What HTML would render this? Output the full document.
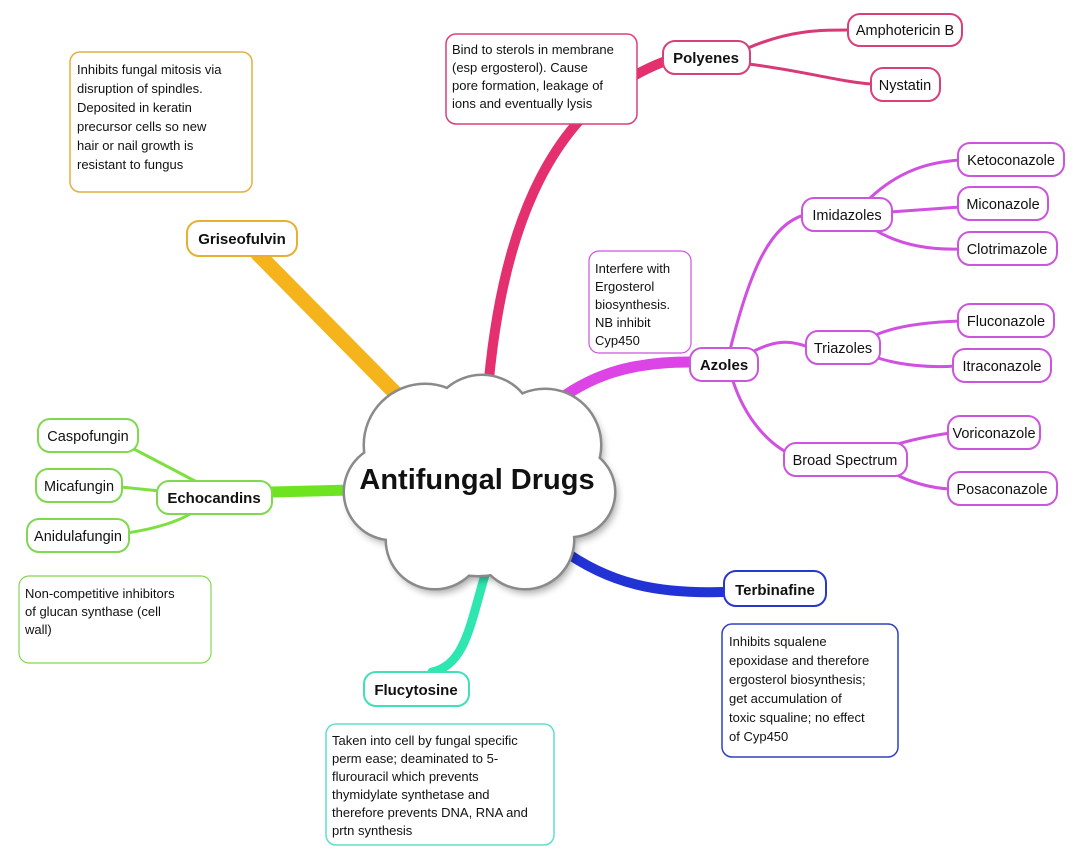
<!DOCTYPE html>
<html><head><meta charset="utf-8"><style>
body{margin:0;background:#fff;}
svg{display:block;font-family:"Liberation Sans",sans-serif;}
.n{font-size:14.5px;fill:#111;}
.b{font-size:15px;font-weight:bold;fill:#111;}
.t{font-size:13px;fill:#111;}
</style></head><body>
<svg width="1080" height="863" viewBox="0 0 1080 863">
<defs><filter id="sh" x="-20%" y="-20%" width="140%" height="140%"><feGaussianBlur stdDeviation="4"/></filter></defs>
<g fill="none" stroke-linecap="round">
<path d="M488 390 C500 250 540 110 663 62" stroke="#e5306f" stroke-width="10"/>
<path d="M412 410 L258 254" stroke="#f5b41c" stroke-width="15"/>
<path d="M552 405 C590 375 630 362 690 362" stroke="#dc44e6" stroke-width="11"/>
<path d="M352 490 L272 492" stroke="#6ee420" stroke-width="11"/>
<path d="M560 548 C610 585 660 594 724 592" stroke="#2233d6" stroke-width="10"/>
<path d="M485 575 C470 625 465 665 432 672" stroke="#2ee6b0" stroke-width="9"/>
<path d="M748 48 C790 30 820 30 850 30" stroke="#d83a78" stroke-width="3"/>
<path d="M748 64 C800 70 840 82 872 84" stroke="#d83a78" stroke-width="3"/>
<g stroke="#d050e0" stroke-width="3">
<path d="M730 350 C750 270 770 225 804 215"/>
<path d="M752 352 C775 340 790 340 808 347"/>
<path d="M732 378 C745 420 770 445 792 455"/>
<path d="M870 198 C900 170 930 162 960 160"/>
<path d="M890 212 L960 207"/>
<path d="M875 230 C900 245 930 250 960 249"/>
<path d="M878 334 C900 325 930 322 960 321"/>
<path d="M878 358 C900 365 930 368 955 366"/>
<path d="M895 445 C910 440 930 436 950 433"/>
<path d="M895 474 C910 482 930 488 950 489"/>
</g>
<g stroke="#7ee040" stroke-width="3">
<path d="M132 448 L195 481"/>
<path d="M121 487 L160 491"/>
<path d="M127 533 C160 528 180 520 190 514"/>
</g>
</g>
<g fill="#000" opacity="0.35" filter="url(#sh)" transform="translate(3,5)">
<circle cx="425" cy="445" r="60"/><circle cx="482" cy="428" r="52"/><circle cx="545" cy="445" r="55"/>
<circle cx="392" cy="492" r="47"/><circle cx="570" cy="492" r="44"/><circle cx="435" cy="540" r="48"/>
<circle cx="525" cy="540" r="48"/><circle cx="478" cy="495" r="80"/>
</g>
<g stroke="#8a8a8a" stroke-width="5" fill="#8a8a8a">
<circle cx="425" cy="445" r="60"/><circle cx="482" cy="428" r="52"/><circle cx="545" cy="445" r="55"/>
<circle cx="392" cy="492" r="47"/><circle cx="570" cy="492" r="44"/><circle cx="435" cy="540" r="48"/>
<circle cx="525" cy="540" r="48"/><circle cx="478" cy="495" r="80"/>
</g>
<g fill="#fff">
<circle cx="425" cy="445" r="60"/><circle cx="482" cy="428" r="52"/><circle cx="545" cy="445" r="55"/>
<circle cx="392" cy="492" r="47"/><circle cx="570" cy="492" r="44"/><circle cx="435" cy="540" r="48"/>
<circle cx="525" cy="540" r="48"/><circle cx="478" cy="495" r="80"/>
</g>
<text x="477" y="489" text-anchor="middle" font-size="29" font-weight="bold" fill="#111">Antifungal Drugs</text>
<g stroke-width="1.5" fill="#fff">
<rect x="446" y="34" width="191" height="90" rx="10" stroke="#d8407a"/>
<rect x="663" y="41" width="87" height="33" rx="12" stroke="#d8407a" stroke-width="2"/>
<rect x="848" y="14" width="114" height="32" rx="12" stroke="#d8407a" stroke-width="2"/>
<rect x="871" y="68" width="69" height="33" rx="12" stroke="#d8407a" stroke-width="2"/>
<g stroke="#cc55dd" stroke-width="2">
<rect x="589" y="251" width="102" height="102" rx="10" stroke-width="1.2"/>
<rect x="690" y="348" width="68" height="33" rx="12"/>
<rect x="802" y="198" width="90" height="33" rx="12"/>
<rect x="806" y="331" width="74" height="33" rx="12"/>
<rect x="784" y="443" width="123" height="33" rx="12"/>
<rect x="958" y="143" width="106" height="33" rx="12"/>
<rect x="958" y="187" width="90" height="33" rx="12"/>
<rect x="958" y="232" width="99" height="33" rx="12"/>
<rect x="958" y="304" width="96" height="33" rx="12"/>
<rect x="953" y="349" width="98" height="33" rx="12"/>
<rect x="948" y="416" width="92" height="33" rx="12"/>
<rect x="948" y="472" width="109" height="33" rx="12"/>
</g>
<rect x="70" y="52" width="182" height="140" rx="10" stroke="#e0b040"/>
<rect x="187" y="221" width="110" height="35" rx="12" stroke="#e8b030" stroke-width="2"/>
<g stroke="#80d850" stroke-width="2">
<rect x="38" y="419" width="100" height="33" rx="12"/>
<rect x="36" y="469" width="86" height="33" rx="12"/>
<rect x="27" y="519" width="102" height="33" rx="12"/>
<rect x="157" y="481" width="115" height="33" rx="12"/>
<rect x="19" y="576" width="192" height="87" rx="10" stroke-width="1.2"/>
</g>
<rect x="364" y="672" width="105" height="34" rx="12" stroke="#40e0b8" stroke-width="2"/>
<rect x="326" y="724" width="228" height="121" rx="10" stroke="#60e0c8"/>
<rect x="724" y="571" width="102" height="35" rx="12" stroke="#2a38c8" stroke-width="2"/>
<rect x="722" y="624" width="176" height="133" rx="10" stroke="#3040c0"/>
</g>
<text class="b" x="706" y="63" text-anchor="middle">Polyenes</text>
<text class="n" x="905" y="35" text-anchor="middle">Amphotericin B</text>
<text class="n" x="905" y="90" text-anchor="middle">Nystatin</text>
<text class="t"><tspan x="452" y="54">Bind to sterols in membrane</tspan><tspan x="452" y="72">(esp ergosterol). Cause</tspan><tspan x="452" y="90">pore formation, leakage of</tspan><tspan x="452" y="108">ions and eventually lysis</tspan></text>
<text class="t"><tspan x="595" y="273">Interfere with</tspan><tspan x="595" y="291">Ergosterol</tspan><tspan x="595" y="309">biosynthesis.</tspan><tspan x="595" y="327">NB inhibit</tspan><tspan x="595" y="345">Cyp450</tspan></text>
<text class="b" x="724" y="370" text-anchor="middle">Azoles</text>
<text class="n" x="847" y="220" text-anchor="middle">Imidazoles</text>
<text class="n" x="843" y="353" text-anchor="middle">Triazoles</text>
<text class="n" x="845" y="465" text-anchor="middle">Broad Spectrum</text>
<text class="n" x="1011" y="165" text-anchor="middle">Ketoconazole</text>
<text class="n" x="1003" y="209" text-anchor="middle">Miconazole</text>
<text class="n" x="1007" y="254" text-anchor="middle">Clotrimazole</text>
<text class="n" x="1006" y="326" text-anchor="middle">Fluconazole</text>
<text class="n" x="1002" y="371" text-anchor="middle">Itraconazole</text>
<text class="n" x="994" y="438" text-anchor="middle">Voriconazole</text>
<text class="n" x="1002" y="494" text-anchor="middle">Posaconazole</text>
<text class="t"><tspan x="77" y="74">Inhibits fungal mitosis via</tspan><tspan x="77" y="93">disruption of spindles.</tspan><tspan x="77" y="112">Deposited in keratin</tspan><tspan x="77" y="131">precursor cells so new</tspan><tspan x="77" y="150">hair or nail growth is</tspan><tspan x="77" y="169">resistant to fungus</tspan></text>
<text class="b" x="242" y="244" text-anchor="middle">Griseofulvin</text>
<text class="n" x="88" y="441" text-anchor="middle">Caspofungin</text>
<text class="n" x="79" y="491" text-anchor="middle">Micafungin</text>
<text class="n" x="78" y="541" text-anchor="middle">Anidulafungin</text>
<text class="b" x="214" y="503" text-anchor="middle">Echocandins</text>
<text class="t"><tspan x="25" y="598">Non-competitive inhibitors</tspan><tspan x="25" y="616">of glucan synthase (cell</tspan><tspan x="25" y="634">wall)</tspan></text>
<text class="b" x="416" y="695" text-anchor="middle">Flucytosine</text>
<text class="t"><tspan x="332" y="745">Taken into cell by fungal specific</tspan><tspan x="332" y="763">perm ease; deaminated to 5-</tspan><tspan x="332" y="781">flurouracil which prevents</tspan><tspan x="332" y="799">thymidylate synthetase and</tspan><tspan x="332" y="817">therefore prevents DNA, RNA and</tspan><tspan x="332" y="835">prtn synthesis</tspan></text>
<text class="b" x="775" y="595" text-anchor="middle">Terbinafine</text>
<text class="t"><tspan x="729" y="646">Inhibits squalene</tspan><tspan x="729" y="665">epoxidase and therefore</tspan><tspan x="729" y="684">ergosterol biosynthesis;</tspan><tspan x="729" y="703">get accumulation of</tspan><tspan x="729" y="722">toxic squaline; no effect</tspan><tspan x="729" y="741">of Cyp450</tspan></text>
</svg>
</body></html>
